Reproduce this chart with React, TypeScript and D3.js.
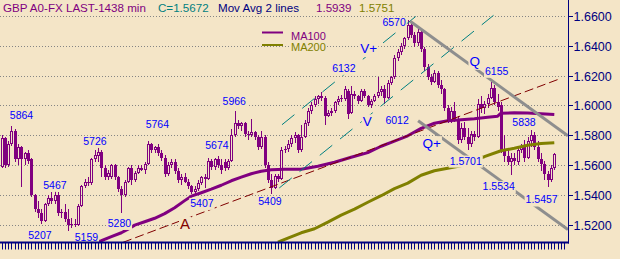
import React from 'react';
import * as d3 from 'd3';

const W = 620;
const H = 259;
const FONT = '"Liberation Sans", Arial, Helvetica, sans-serif';
const BG = '#F4E5C7';
const PURPLE = '#800080';
const OLIVE = '#808000';
const TEAL = '#008080';
const NAVY = '#000080';
const BLUE = '#0000FF';
const MAROON = '#800000';
const GRAY = '#8E8E8E';
const GRID = '#858585';

// ---- daily OHLC (GBP) ----
const open = [
  1.5590, 1.5785, 1.5600, 1.5745, 1.5830, 1.5640, 1.5720, 1.5640, 1.5680, 1.5640,
  1.5400, 1.5310, 1.5280, 1.5230, 1.5340, 1.5380, 1.5360, 1.5400, 1.5280, 1.5290,
  1.5240, 1.5200, 1.5210, 1.5200, 1.5330, 1.5460, 1.5490, 1.5480, 1.5640, 1.5660,
  1.5690, 1.5580, 1.5520, 1.5520, 1.5600, 1.5520, 1.5440, 1.5400, 1.5490, 1.5580,
  1.5500, 1.5550, 1.5580, 1.5570, 1.5610, 1.5740, 1.5700, 1.5720, 1.5680, 1.5650,
  1.5540, 1.5600, 1.5620, 1.5560, 1.5500, 1.5520, 1.5490, 1.5460, 1.5420, 1.5440,
  1.5480, 1.5520, 1.5510, 1.5630, 1.5590, 1.5640, 1.5600, 1.5620, 1.5580, 1.5630,
  1.5800, 1.5880, 1.5860, 1.5880, 1.5810, 1.5800, 1.5820, 1.5790, 1.5720, 1.5790,
  1.5600, 1.5500, 1.5450, 1.5530, 1.5510, 1.5700, 1.5710, 1.5740, 1.5780, 1.5800,
  1.5700, 1.5790, 1.5880, 1.5960, 1.6000, 1.6040, 1.6060, 1.6050, 1.5930, 1.5950,
  1.5960, 1.6020, 1.6040, 1.6040, 1.6100, 1.5950, 1.6080, 1.6060, 1.6030, 1.6100,
  1.6060, 1.6000, 1.6030, 1.6060, 1.6090, 1.6110, 1.6050, 1.6150, 1.6190, 1.6320,
  1.6360, 1.6400, 1.6450, 1.6540, 1.6470, 1.6420, 1.6490, 1.6380, 1.6260, 1.6190,
  1.6160, 1.6220, 1.6140, 1.6110, 1.5980, 1.5900, 1.5960, 1.5910, 1.5770, 1.5850,
  1.5790, 1.5740, 1.5810, 1.5790, 1.6010, 1.5980, 1.6010, 1.6050, 1.6120, 1.6020,
  1.6000, 1.5700, 1.5660, 1.5620, 1.5650, 1.5620, 1.5700, 1.5720, 1.5650, 1.5760,
  1.5800, 1.5720, 1.5640, 1.5610, 1.5540, 1.5500, 1.5580,
];
const high = [
  1.5800, 1.5790, 1.5760, 1.5864, 1.5840, 1.5740, 1.5730, 1.5690, 1.5700, 1.5650,
  1.5410, 1.5360, 1.5310, 1.5350, 1.5400, 1.5420, 1.5467, 1.5420, 1.5310, 1.5340,
  1.5310, 1.5250, 1.5240, 1.5340, 1.5470, 1.5510, 1.5520, 1.5650, 1.5700, 1.5726,
  1.5700, 1.5600, 1.5570, 1.5610, 1.5610, 1.5530, 1.5460, 1.5500, 1.5590, 1.5600,
  1.5560, 1.5600, 1.5600, 1.5620, 1.5764, 1.5750, 1.5730, 1.5740, 1.5700, 1.5670,
  1.5620, 1.5640, 1.5640, 1.5580, 1.5540, 1.5550, 1.5510, 1.5470, 1.5460, 1.5500,
  1.5530, 1.5540, 1.5650, 1.5640, 1.5650, 1.5660, 1.5640, 1.5640, 1.5640, 1.5840,
  1.5966, 1.5900, 1.5890, 1.5890, 1.5830, 1.5910, 1.5830, 1.5800, 1.5830, 1.5800,
  1.5620, 1.5540, 1.5540, 1.5540, 1.5720, 1.5730, 1.5770, 1.5800, 1.5820, 1.5810,
  1.5870, 1.5900, 1.5980, 1.6020, 1.6060, 1.6070, 1.6090, 1.6060, 1.5970, 1.5980,
  1.6030, 1.6060, 1.6070, 1.6130, 1.6110, 1.6132, 1.6100, 1.6070, 1.6110, 1.6110,
  1.6070, 1.6040, 1.6080, 1.6190, 1.6130, 1.6140, 1.6170, 1.6200, 1.6340, 1.6380,
  1.6420, 1.6460, 1.6570, 1.6560, 1.6490, 1.6510, 1.6500, 1.6390, 1.6280, 1.6210,
  1.6240, 1.6230, 1.6170, 1.6120, 1.6000, 1.5990, 1.6020, 1.5930, 1.5880, 1.5890,
  1.5850, 1.5830, 1.5830, 1.6040, 1.6060, 1.6030, 1.6080, 1.6155, 1.6140, 1.6080,
  1.6020, 1.5800, 1.5700, 1.5680, 1.5680, 1.5720, 1.5740, 1.5770, 1.5790, 1.5838,
  1.5820, 1.5760, 1.5680, 1.5630, 1.5560, 1.5600, 1.5680,
];
const low = [
  1.5580, 1.5580, 1.5590, 1.5730, 1.5620, 1.5600, 1.5455, 1.5600, 1.5610, 1.5390,
  1.5290, 1.5250, 1.5207, 1.5220, 1.5330, 1.5340, 1.5340, 1.5260, 1.5250, 1.5220,
  1.5159, 1.5180, 1.5185, 1.5190, 1.5320, 1.5450, 1.5460, 1.5470, 1.5620, 1.5620,
  1.5520, 1.5500, 1.5500, 1.5510, 1.5500, 1.5420, 1.5280, 1.5390, 1.5480, 1.5470,
  1.5490, 1.5540, 1.5560, 1.5540, 1.5600, 1.5680, 1.5680, 1.5660, 1.5630, 1.5520,
  1.5530, 1.5580, 1.5540, 1.5480, 1.5470, 1.5480, 1.5440, 1.5410, 1.5407, 1.5430,
  1.5470, 1.5450, 1.5500, 1.5570, 1.5570, 1.5580, 1.5540, 1.5560, 1.5570, 1.5620,
  1.5790, 1.5840, 1.5830, 1.5790, 1.5770, 1.5790, 1.5770, 1.5700, 1.5710, 1.5580,
  1.5480, 1.5409, 1.5440, 1.5490, 1.5500, 1.5680, 1.5690, 1.5720, 1.5750, 1.5680,
  1.5690, 1.5780, 1.5860, 1.5940, 1.5990, 1.6010, 1.6030, 1.5870, 1.5920, 1.5930,
  1.5950, 1.6000, 1.6020, 1.6030, 1.5910, 1.5940, 1.6040, 1.6010, 1.6020, 1.6050,
  1.5990, 1.5980, 1.6020, 1.6050, 1.6060, 1.6012, 1.6040, 1.6140, 1.6180, 1.6300,
  1.6340, 1.6380, 1.6440, 1.6450, 1.6390, 1.6400, 1.6360, 1.6230, 1.6170, 1.6140,
  1.6150, 1.6120, 1.6080, 1.5960, 1.5880, 1.5880, 1.5890, 1.5740, 1.5750, 1.5770,
  1.5701, 1.5720, 1.5760, 1.5780, 1.5950, 1.5940, 1.5980, 1.6040, 1.6000, 1.5960,
  1.5680, 1.5620, 1.5600, 1.5534, 1.5600, 1.5600, 1.5680, 1.5620, 1.5640, 1.5720,
  1.5700, 1.5620, 1.5560, 1.5500, 1.5457, 1.5490, 1.5570,
];
const close = [
  1.5785, 1.5600, 1.5745, 1.5830, 1.5640, 1.5720, 1.5640, 1.5680, 1.5630, 1.5400,
  1.5310, 1.5280, 1.5230, 1.5340, 1.5380, 1.5360, 1.5400, 1.5280, 1.5290, 1.5240,
  1.5200, 1.5210, 1.5200, 1.5330, 1.5460, 1.5490, 1.5480, 1.5640, 1.5670, 1.5690,
  1.5580, 1.5520, 1.5550, 1.5600, 1.5520, 1.5440, 1.5400, 1.5490, 1.5580, 1.5500,
  1.5550, 1.5580, 1.5570, 1.5610, 1.5740, 1.5700, 1.5720, 1.5680, 1.5650, 1.5540,
  1.5600, 1.5620, 1.5560, 1.5500, 1.5520, 1.5490, 1.5460, 1.5420, 1.5440, 1.5480,
  1.5520, 1.5510, 1.5630, 1.5590, 1.5640, 1.5600, 1.5570, 1.5580, 1.5630, 1.5800,
  1.5880, 1.5860, 1.5880, 1.5810, 1.5800, 1.5820, 1.5790, 1.5720, 1.5790, 1.5600,
  1.5500, 1.5450, 1.5530, 1.5510, 1.5700, 1.5710, 1.5740, 1.5780, 1.5800, 1.5700,
  1.5790, 1.5880, 1.5960, 1.6000, 1.6040, 1.6060, 1.6050, 1.5930, 1.5950, 1.5960,
  1.6020, 1.6040, 1.6050, 1.6110, 1.5940, 1.6080, 1.6060, 1.6030, 1.6100, 1.6060,
  1.6000, 1.6030, 1.6060, 1.6090, 1.6110, 1.6050, 1.6150, 1.6190, 1.6320, 1.6360,
  1.6400, 1.6450, 1.6540, 1.6470, 1.6420, 1.6490, 1.6380, 1.6260, 1.6190, 1.6160,
  1.6220, 1.6140, 1.6110, 1.5980, 1.5900, 1.5960, 1.5910, 1.5770, 1.5850, 1.5790,
  1.5740, 1.5810, 1.5790, 1.6010, 1.5980, 1.6010, 1.6050, 1.6120, 1.6020, 1.5990,
  1.5700, 1.5660, 1.5620, 1.5650, 1.5630, 1.5700, 1.5720, 1.5650, 1.5760, 1.5800,
  1.5720, 1.5640, 1.5610, 1.5540, 1.5500, 1.5580, 1.5672,
];

// ---- moving averages (read at bar indices) ----
const ma100Idx = [28, 30, 33, 36, 38, 40, 43, 46, 49, 52, 55, 57, 60, 63, 66, 69, 72, 75, 78, 81, 85, 90, 95, 100, 105, 110, 114, 118, 122, 126, 130, 134, 138, 142, 146, 149, 150, 154, 158, 162, 166];
const ma100 = [1.5080, 1.5095, 1.5122, 1.5148, 1.5172, 1.5199, 1.5222, 1.5245, 1.5276, 1.5316, 1.5363, 1.5393, 1.5416, 1.5440, 1.5466, 1.5496, 1.5520, 1.5543, 1.5560, 1.5570, 1.5573, 1.5573, 1.5593, 1.5620, 1.5653, 1.5684, 1.5727, 1.5761, 1.5797, 1.5847, 1.5881, 1.5898, 1.5904, 1.5911, 1.5921, 1.5928, 1.5948, 1.5951, 1.5950, 1.5944, 1.5939];
const ma200Idx = [83, 86, 90, 94, 98, 102, 106, 110, 114, 118, 122, 126, 130, 134, 138, 142, 145, 150, 154, 158, 162, 166];
const ma200 = [1.5085, 1.5112, 1.5148, 1.5175, 1.5219, 1.5266, 1.5306, 1.5352, 1.5396, 1.5443, 1.5480, 1.5533, 1.5563, 1.5580, 1.5597, 1.5637, 1.5657, 1.5697, 1.5714, 1.5734, 1.5746, 1.5751];

// ---- hand-drawn trend lines: [barIndex, price] endpoints ----
const trendA: [number, number][] = [[36.49, 1.5084], [167.72, 1.6179]];
const channelUpper: [number, number][] = [[84.23, 1.5871], [124.8, 1.6603]];
const channelLower: [number, number][] = [[83.42, 1.5448], [147.75, 1.6603]];
const qUpper: [number, number][] = [[122.7, 1.6563], [170.1, 1.5797]];
const qLower: [number, number][] = [[125.1, 1.5898], [170.1, 1.5169]];

const yTicks = [1.52, 1.54, 1.56, 1.58, 1.60, 1.62, 1.64, 1.66];
const tickCount = 170;

// ---- annotations: text, anchor bar index, anchor price ----
const annotations = [
  { t: '5864', i: 6.0, p: 1.5936, s: 10.5, c: BLUE },
  { t: '5207', i: 11.55, p: 1.5130, s: 10.5, c: BLUE },
  { t: '5467', i: 16.05, p: 1.5468, s: 10.5, c: BLUE },
  { t: '5726', i: 28.06, p: 1.5762, s: 10.5, c: BLUE },
  { t: '5280', i: 35.4, p: 1.5213, s: 10.5, c: BLUE },
  { t: '5159', i: 25.5, p: 1.5120, s: 10.5, c: BLUE },
  { t: '5764', i: 46.8, p: 1.5876, s: 10.5, c: BLUE },
  { t: '5674', i: 64.7, p: 1.5733, s: 10.5, c: BLUE },
  { t: '5966', i: 69.9, p: 1.6028, s: 10.5, c: BLUE },
  { t: '5407', i: 60.2, p: 1.5347, s: 10.5, c: BLUE },
  { t: '5409', i: 80.6, p: 1.5360, s: 10.5, c: BLUE },
  { t: '6132', i: 102.8, p: 1.6251, s: 10.5, c: BLUE },
  { t: 'V+', i: 110.3, p: 1.6383, s: 13.5, c: BLUE },
  { t: 'V', i: 109.8, p: 1.5896, s: 13.5, c: BLUE },
  { t: '6012', i: 118.8, p: 1.5903, s: 10.5, c: BLUE },
  { t: '6570', i: 117.9, p: 1.6560, s: 10.5, c: BLUE },
  { t: 'Q', i: 142.1, p: 1.6298, s: 13.5, c: BLUE },
  { t: '6155', i: 148.7, p: 1.6231, s: 10.5, c: BLUE },
  { t: '5838', i: 156.9, p: 1.5889, s: 10.5, c: BLUE },
  { t: 'Q+', i: 129.2, p: 1.5750, s: 13.5, c: BLUE },
  { t: '1.5701', i: 139.4, p: 1.5630, s: 10.5, c: BLUE },
  { t: '1.5534', i: 149.3, p: 1.5459, s: 10.5, c: BLUE },
  { t: '1.5457', i: 162.2, p: 1.5370, s: 10.5, c: BLUE },
  { t: 'A', i: 55.1, p: 1.5207, s: 15, c: MAROON },
];

let measureCtx: CanvasRenderingContext2D | null = null;
function textWidth(t: string, size: number): number {
  if (!measureCtx) measureCtx = document.createElement('canvas').getContext('2d');
  if (!measureCtx) return t.length * size * 0.56;
  measureCtx.font = `${size}px ${FONT}`;
  return measureCtx.measureText(t).width;
}

export default function App() {
  const plotRight = 568;
  const plotBottom = 242;
  const x = d3.scaleLinear().domain([0, 166]).range([1.5, 554.3]);
  const y = d3.scaleLinear().domain([1.52, 1.66]).range([225, 15.8]);

  const line = d3
    .line<[number, number]>()
    .x((d) => x(d[0]))
    .y((d) => y(d[1]));

  const ma100Pts: [number, number][] = ma100Idx.map((i, k) => [i, ma100[k]]);
  const ma200Pts: [number, number][] = ma200Idx.map((i, k) => [i, ma200[k]]);

  const candles = open.map((o, i) => {
    const c = close[i];
    const cx = Math.round(x(i));
    const yH = Math.round(y(high[i]));
    const yL = Math.round(y(low[i]));
    const yTop = Math.round(y(Math.max(o, c)));
    let yBot = Math.round(y(Math.min(o, c)));
    if (yBot - yTop < 1) yBot = yTop + 1;
    const up = c > o;
    if (up) {
      return (
        <g key={i}>
          <rect x={cx} y={yH} width={1} height={Math.max(0, yTop - yH)} fill={PURPLE} />
          <rect x={cx} y={yBot} width={1} height={Math.max(0, yL - yBot)} fill={PURPLE} />
          <rect x={cx - 0.5} y={yTop + 0.5} width={2} height={yBot - yTop - 1 > 0 ? yBot - yTop - 1 : 0.01} fill="none" stroke={PURPLE} strokeWidth={1} />
        </g>
      );
    }
    return (
      <g key={i}>
        <rect x={cx} y={yH} width={1} height={Math.max(1, yL - yH)} fill={PURPLE} />
        <rect x={cx - 1} y={yTop} width={3} height={yBot - yTop} fill={PURPLE} />
      </g>
    );
  });

  return (
    <svg
      width={W}
      height={H}
      viewBox={`0 0 ${W} ${H}`}
      style={{ position: 'fixed', left: 0, top: 0, display: 'block' }}
      fontFamily={FONT}
    >
      <defs>
        <clipPath id="plotClip">
          <rect x={0} y={0} width={plotRight} height={plotBottom} />
        </clipPath>
      </defs>
      <rect x={0} y={0} width={W} height={H} fill={BG} />

      {/* grid */}
      {yTicks.map((t) => {
        const yy = Math.round(y(t)) + 0.5;
        return (
          <line key={t} x1={0} x2={plotRight - 1} y1={yy} y2={yy} stroke={GRID} strokeWidth={1} strokeDasharray="1,2" />
        );
      })}

      <g clipPath="url(#plotClip)" shapeRendering="crispEdges">
        {candles}
      </g>

      <g clipPath="url(#plotClip)" fill="none">
        <path d={line(ma100Pts) || ''} stroke={PURPLE} strokeWidth={3} strokeLinejoin="round" />
        <path d={line(ma200Pts) || ''} stroke={OLIVE} strokeWidth={3} strokeLinejoin="round" />
        <path d={line(trendA) || ''} stroke={MAROON} strokeWidth={1} strokeDasharray="9,4" />
        <path d={line(channelUpper) || ''} stroke={TEAL} strokeWidth={1} strokeDasharray="16,10" />
        <path d={line(channelLower) || ''} stroke={TEAL} strokeWidth={1} strokeDasharray="16,10" />
        <path d={line(qUpper) || ''} stroke={GRAY} strokeWidth={3} />
        <path d={line(qLower) || ''} stroke={GRAY} strokeWidth={3} />
      </g>

      {/* annotations with background boxes */}
      {annotations.map((a, k) => {
        const cx = x(a.i);
        const base = y(a.p) + 0.358 * a.s;
        const w = textWidth(a.t, a.s);
        return (
          <g key={k}>
            <rect x={cx - w / 2 - 1} y={base - 0.85 * a.s} width={w + 2} height={a.s * 1.15} fill={BG} />
            <text x={cx} y={base} textAnchor="middle" fontSize={a.s} fill={a.c}>
              {a.t}
            </text>
          </g>
        );
      })}

      {/* legend */}
      <line x1={262} x2={283} y1={32.5} y2={32.5} stroke={PURPLE} strokeWidth={2} />
      <line x1={262} x2={283} y1={45} y2={45} stroke={OLIVE} strokeWidth={2} />
      <rect x={290} y={30.5} width={textWidth('MA100', 11) + 2} height={11.5} fill={BG} />
      <rect x={290} y={41.8} width={textWidth('MA200', 11) + 2} height={11.5} fill={BG} />
      <text x={291} y={40} fontSize={11} fill={PURPLE}>MA100</text>
      <text x={291} y={51.2} fontSize={11} fill={OLIVE}>MA200</text>

      {/* title */}
      <g fontSize={11.6}>
        <text x={3} y={11.7} fill={PURPLE}>GBP A0-FX LAST-1438 min</text>
        <text x={158} y={11.7} fill={TEAL}>C=1.5672</text>
        <text x={218} y={11.7} fill={NAVY}>Mov Avg 2 lines</text>
        <text x={316} y={11.7} fill={PURPLE}>1.5939</text>
        <text x={359} y={11.7} fill={OLIVE}>1.5751</text>
      </g>

      {/* axes */}
      <rect x={0} y={241.5} width={plotRight + 1} height={2} fill={NAVY} />
      <line x1={plotRight + 0.5} x2={plotRight + 0.5} y1={0} y2={243.5} stroke={NAVY} strokeWidth={1} />
      {d3.range(tickCount).map((i) => {
        const xx = Math.round(x(i)) + 0.5;
        return <line key={i} x1={xx} x2={xx} y1={243} y2={249.5} stroke={NAVY} strokeWidth={1} />;
      })}
      {yTicks.map((t) => {
        const yy = Math.round(y(t)) + 0.5;
        return (
          <g key={t}>
            <line x1={plotRight} x2={573} y1={yy} y2={yy} stroke={NAVY} strokeWidth={1} />
            <text x={573.5} y={yy + 4.5} fontSize={12.5} fill={NAVY}>
              {t.toFixed(4)}
            </text>
          </g>
        );
      })}
    </svg>
  );
}
